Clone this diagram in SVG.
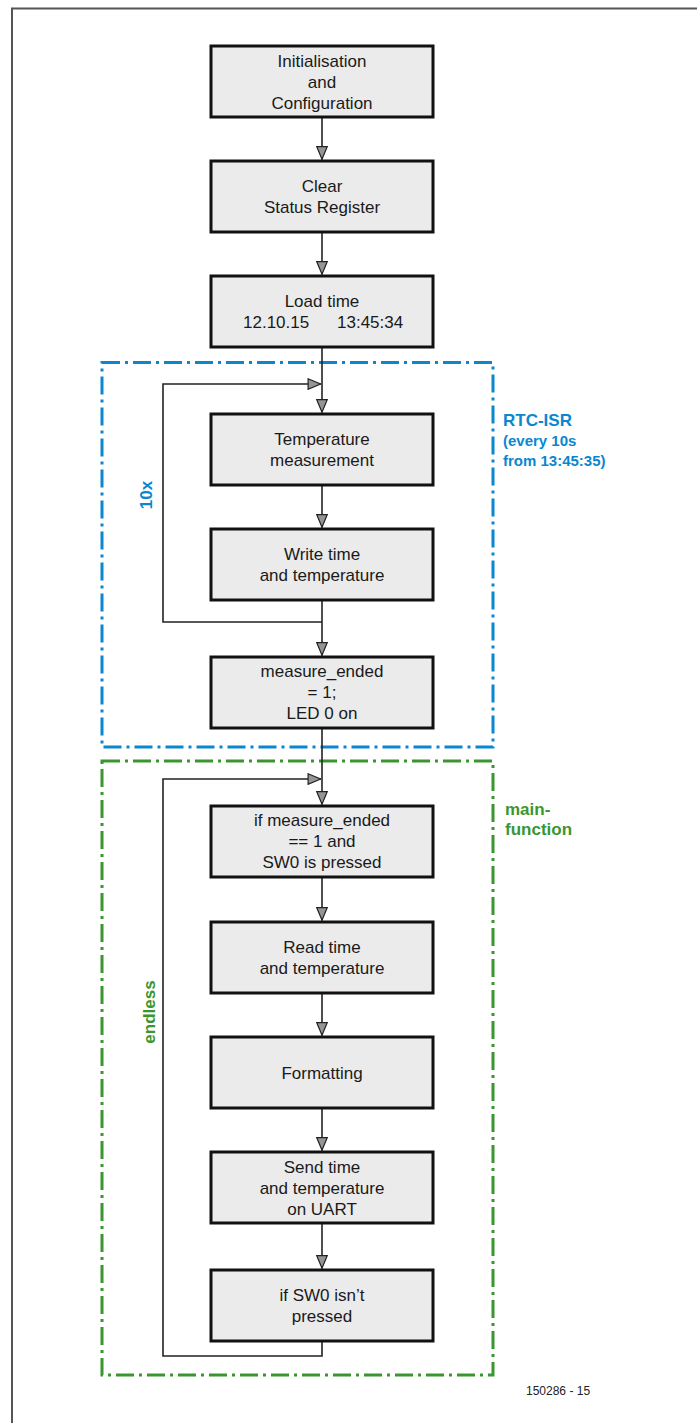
<svg xmlns="http://www.w3.org/2000/svg" width="697" height="1423" viewBox="0 0 697 1423">
<style>
.box{fill:#ebebeb;stroke:#111;stroke-width:3}
.t{font-family:"Liberation Sans",Arial,sans-serif;font-size:17px;fill:#1a1a1a;text-anchor:middle}
.ln{fill:none;stroke:#222;stroke-width:1.6}
.lb{font-family:"Liberation Sans",Arial,sans-serif;font-weight:bold;font-size:17px}
.blue{fill:#0a87cf}
.green{fill:#3a962f}
</style>
<defs>
<marker id="arr" viewBox="0 0 14 12" refX="13.6" refY="6" markerWidth="14" markerHeight="12" orient="auto" markerUnits="userSpaceOnUse">
<path d="M0.7,0.7 L13.3,6 L0.7,11.3 Z" fill="#959595" stroke="#222" stroke-width="1.2"/>
</marker>
</defs>
<rect width="697" height="1423" fill="#fff"/>
<g id="frame">
<path d="M12,1423 V8.5 H697" fill="none" stroke="#555" stroke-width="2"/>
</g>
<g id="regions">
<rect x="102" y="362.5" width="391" height="384.5" fill="none" stroke="#0a87cf" stroke-width="3" stroke-dasharray="18 5 3 5"/>
<rect x="102" y="761" width="391" height="614" fill="none" stroke="#3a962f" stroke-width="3" stroke-dasharray="18 5 3 5"/>
</g>
<g id="connectors">
<line class="ln" x1="322" y1="117" x2="322" y2="159.5" marker-end="url(#arr)"/>
<line class="ln" x1="322" y1="232" x2="322" y2="274.5" marker-end="url(#arr)"/>
<line class="ln" x1="322" y1="347" x2="322" y2="412.5" marker-end="url(#arr)"/>
<line class="ln" x1="322" y1="485" x2="322" y2="527.5" marker-end="url(#arr)"/>
<line class="ln" x1="322" y1="600" x2="322" y2="655.5" marker-end="url(#arr)"/>
<polyline class="ln" points="322,622 163,622 163,384 321,384" marker-end="url(#arr)"/>
<line class="ln" x1="322" y1="728" x2="322" y2="804.5" marker-end="url(#arr)"/>
<line class="ln" x1="322" y1="877" x2="322" y2="920.5" marker-end="url(#arr)"/>
<line class="ln" x1="322" y1="993" x2="322" y2="1035.5" marker-end="url(#arr)"/>
<line class="ln" x1="322" y1="1108" x2="322" y2="1150.5" marker-end="url(#arr)"/>
<line class="ln" x1="322" y1="1223" x2="322" y2="1268.5" marker-end="url(#arr)"/>
<polyline class="ln" points="322,1341 322,1356 163,1356 163,779 321,779" marker-end="url(#arr)"/>
</g>
<g id="n1"><rect class="box" x="211" y="46" width="222" height="71"/>
<text class="t" x="322" y="66.5">Initialisation</text><text class="t" x="322" y="87.5">and</text><text class="t" x="322" y="108.5">Configuration</text></g>
<g id="n2"><rect class="box" x="211" y="161" width="222" height="71"/>
<text class="t" x="322" y="192">Clear</text><text class="t" x="322" y="213">Status Register</text></g>
<g id="n3"><rect class="box" x="211" y="276" width="222" height="71"/>
<text class="t" x="322" y="307">Load time</text><text class="t" x="243" y="328" style="text-anchor:start">12.10.15</text><text class="t" x="337" y="328" style="text-anchor:start">13:45:34</text></g>
<g id="n4"><rect class="box" x="211" y="414" width="222" height="71"/>
<text class="t" x="322" y="445">Temperature</text><text class="t" x="322" y="466">measurement</text></g>
<g id="n5"><rect class="box" x="211" y="529" width="222" height="71"/>
<text class="t" x="322" y="560">Write time</text><text class="t" x="322" y="581">and temperature</text></g>
<g id="n6"><rect class="box" x="211" y="657" width="222" height="71"/>
<text class="t" x="322" y="677">measure_ended</text><text class="t" x="322" y="698">= 1;</text><text class="t" x="322" y="719">LED 0 on</text></g>
<g id="n7"><rect class="box" x="211" y="806" width="222" height="71"/>
<text class="t" x="322" y="826">if measure_ended</text><text class="t" x="322" y="847">== 1 and</text><text class="t" x="322" y="868">SW0 is pressed</text></g>
<g id="n8"><rect class="box" x="211" y="922" width="222" height="71"/>
<text class="t" x="322" y="953">Read time</text><text class="t" x="322" y="974">and temperature</text></g>
<g id="n9"><rect class="box" x="211" y="1037" width="222" height="71"/>
<text class="t" x="322" y="1078.5">Formatting</text></g>
<g id="n10"><rect class="box" x="211" y="1152" width="222" height="71"/>
<text class="t" x="322" y="1172.5">Send time</text><text class="t" x="322" y="1193.5">and temperature</text><text class="t" x="322" y="1214.5">on UART</text></g>
<g id="n11"><rect class="box" x="211" y="1270" width="222" height="71"/>
<text class="t" x="322" y="1301">if SW0 isn’t</text><text class="t" x="322" y="1322">pressed</text></g>
<g id="labels">
<text class="lb blue" x="503" y="426">RTC-ISR</text>
<text class="lb blue" x="503" y="446" style="font-size:15px">(every 10s</text>
<text class="lb blue" x="503" y="466" style="font-size:15px">from 13:45:35)</text>
<text class="lb blue" transform="translate(152,495) rotate(-90)" text-anchor="middle">10x</text>
<text class="lb green" x="505" y="815">main-</text>
<text class="lb green" x="505" y="835">function</text>
<text class="lb green" transform="translate(155,1012) rotate(-90)" text-anchor="middle">endless</text>
<text x="526" y="1395" style="font-family:'Liberation Sans',Arial,sans-serif;font-size:12px;fill:#222">150286 - 15</text>
</g>
</svg>
